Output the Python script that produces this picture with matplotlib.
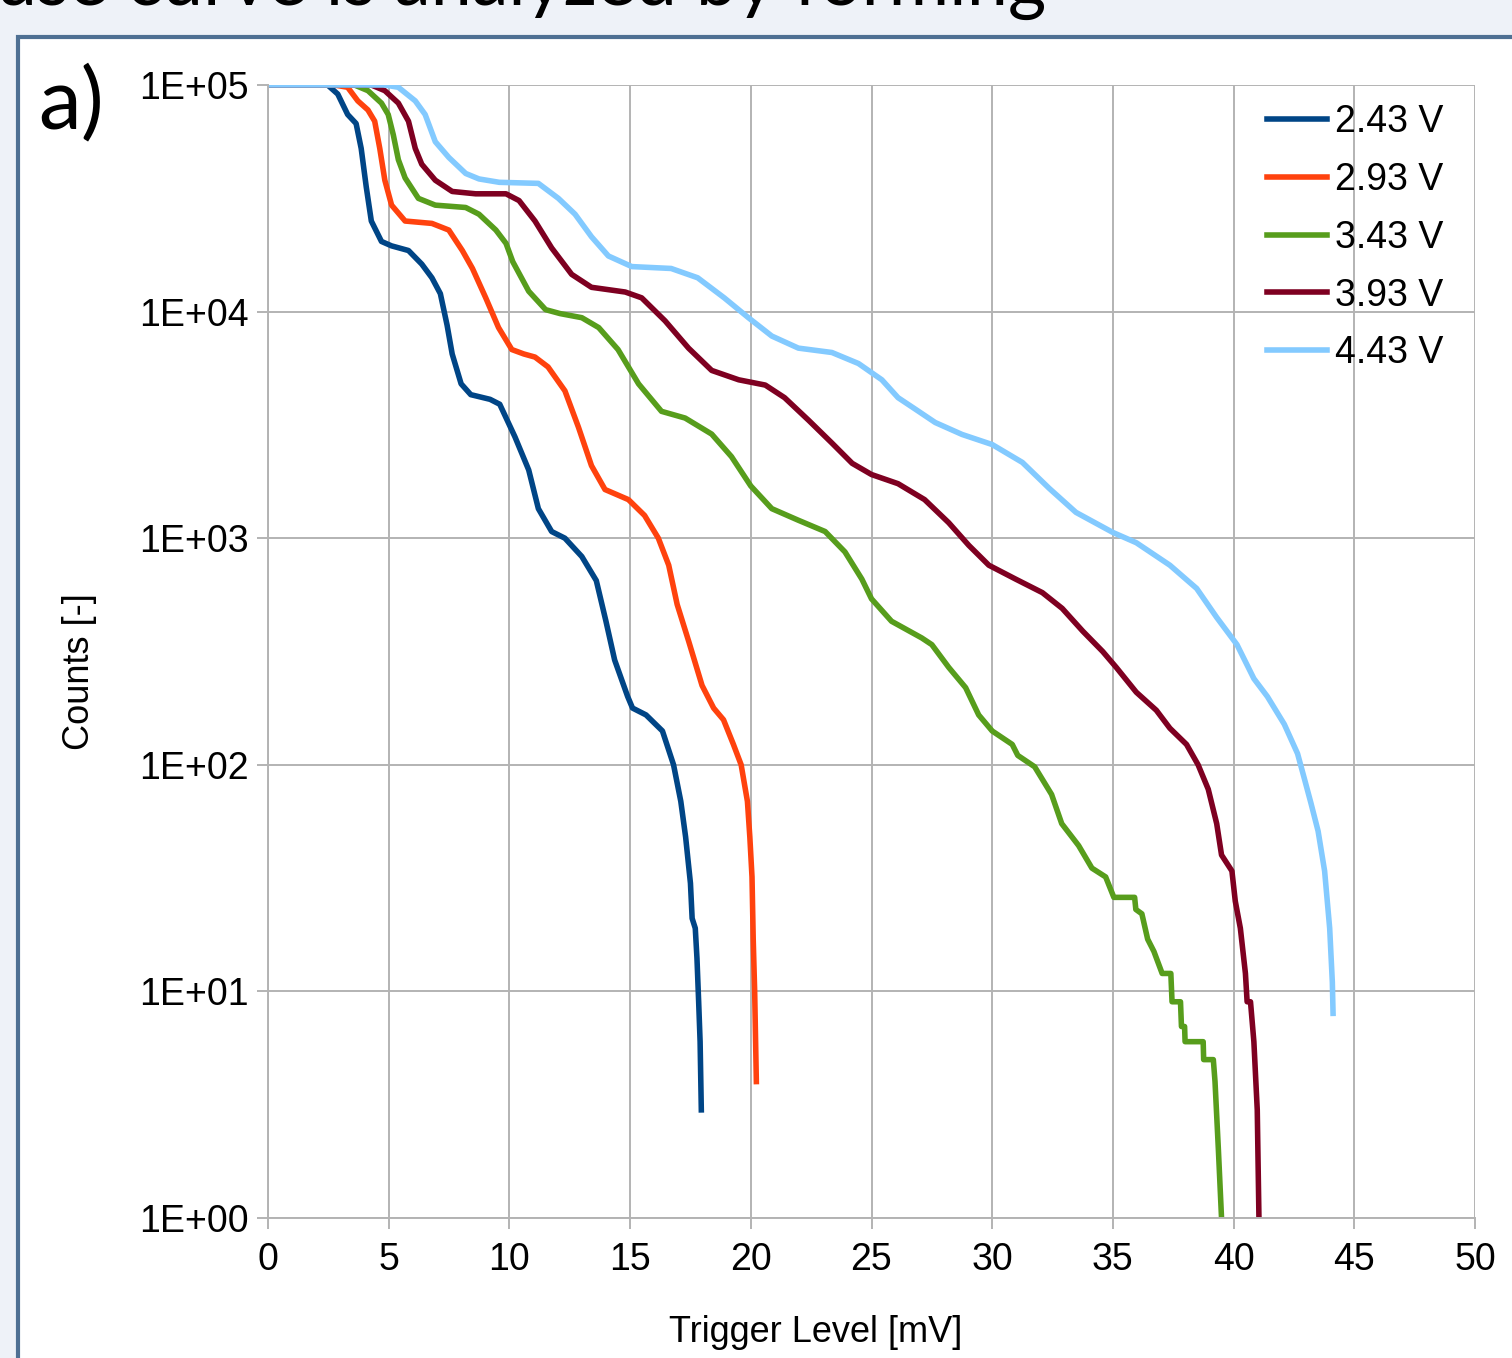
import matplotlib
matplotlib.use("Agg")
from matplotlib import pyplot as plt
from matplotlib.patches import Rectangle
from matplotlib.ticker import FixedLocator, FixedFormatter, MultipleLocator

# Trigger level [mV] and counts for each bias voltage
x_243 = [0, 2.47, 2.89, 3.3, 3.65, 3.86, 4.07, 4.28, 4.7, 5.12, 5.82, 6.37, 6.79, 7.14,
         7.42, 7.63, 8.0, 8.4, 9.2, 9.6, 10.23, 10.8, 11.2, 11.75, 12.3, 13.0, 13.6, 14.0,
         14.36, 14.9, 15.1, 15.66, 16.34, 16.8, 17.1, 17.3, 17.5, 17.57, 17.7, 17.77, 17.84,
         17.9, 17.95]
y_243 = [100000, 100000, 91200, 74100, 67600, 52500, 35500, 25100, 20400, 19500, 18600,
         16200, 14100, 12000, 8700, 6500, 4800, 4300, 4100, 3900, 2800, 2000, 1350, 1070,
         1000, 830, 650, 430, 290, 200, 178, 166, 141, 100, 69, 48, 30, 21, 19, 14, 9, 6, 3]

x_293 = [0, 2.75, 3.3, 3.72, 4.14, 4.42, 4.63, 4.84, 5.12, 5.68, 6.79, 7.49, 8.05, 8.47,
         9.02, 9.55, 10.1, 10.6, 11.06, 11.6, 12.3, 12.86, 13.4, 13.96, 14.93, 15.6, 16.17,
         16.6, 16.95, 17.43, 17.98, 18.46, 18.87, 19.28, 19.6, 19.86, 19.96, 20.05, 20.1,
         20.16, 20.23]
y_293 = [100000, 100000, 97700, 85100, 77600, 69200, 52500, 38000, 29500, 25100, 24500,
         22900, 18600, 15500, 11500, 8500, 6800, 6500, 6300, 5700, 4470, 3090, 2090, 1640,
         1480, 1260, 1000, 760, 510, 350, 224, 178, 158, 123, 100, 69, 48, 32, 17, 10, 4]

x_343 = [0, 3.58, 4.14, 4.7, 4.98, 5.19, 5.4, 5.68, 6.23, 6.93, 8.19, 8.74, 9.44, 9.86,
         10.14, 10.8, 11.5, 12.1, 13.0, 13.7, 14.5, 15.35, 16.3, 17.28, 18.38, 19.2, 20.0,
         20.87, 21.97, 23.08, 23.9, 24.6, 25.0, 25.83, 27.08, 27.5, 28.2, 28.9, 29.44, 30.0,
         30.83, 31.06, 31.76, 32.46, 32.88, 33.58, 34.13, 34.7, 35.04, 35.9, 35.95, 36.2,
         36.44, 36.7, 37.04, 37.4, 37.45, 37.8, 37.84, 37.97, 37.99, 38.74, 38.76, 39.16,
         39.23, 39.37, 39.5]
y_343 = [100000, 100000, 94400, 83200, 74100, 60300, 46800, 38900, 31600, 29500, 28800,
         26900, 22900, 20000, 16600, 12300, 10200, 9800, 9400, 8500, 6800, 4800, 3630, 3390,
         2880, 2290, 1700, 1350, 1200, 1070, 870, 660, 540, 430, 363, 339, 269, 219, 166,
         141, 123, 110, 98, 74, 55, 44, 35, 32, 26, 26, 23, 22, 17, 15, 12, 12, 9, 9, 7, 7,
         6, 6, 5, 5, 4, 2, 1]

x_393 = [0, 4.28, 4.84, 5.4, 5.82, 6.1, 6.37, 6.93, 7.63, 8.6, 9.86, 10.4, 11.06, 11.75,
         12.58, 13.4, 14.8, 15.48, 16.45, 17.42, 18.38, 19.5, 20.6, 21.4, 22.4, 23.36, 24.2,
         25.0, 26.1, 27.2, 28.2, 29.03, 29.86, 30.97, 32.08, 32.9, 33.75, 34.58, 35.14,
         35.97, 36.8, 37.36, 38.05, 38.53, 38.95, 39.3, 39.5, 39.93, 40.07, 40.28, 40.49,
         40.56, 40.7, 40.84, 40.98, 41.05]
y_393 = [100000, 100000, 94400, 83200, 69200, 52500, 44700, 38000, 33900, 33100, 33100,
         30900, 25100, 19100, 14600, 12800, 12200, 11500, 9100, 6900, 5500, 5000, 4740,
         4170, 3310, 2630, 2140, 1910, 1740, 1480, 1170, 930, 760, 660, 575, 490, 389, 316,
         269, 209, 174, 145, 123, 100, 78, 55, 40, 34, 25, 19, 12, 9, 9, 6, 3, 1]

x_443 = [0, 4.84, 5.4, 6.1, 6.51, 6.93, 7.49, 8.19, 8.74, 9.58, 11.2, 12.03, 12.72, 13.4,
         14.1, 15.07, 16.7, 17.8, 18.9, 19.9, 20.87, 21.97, 23.36, 24.46, 25.43, 26.1, 26.8,
         27.64, 28.75, 30.0, 31.25, 32.36, 33.47, 35.0, 35.97, 37.36, 38.47, 39.3, 40.14,
         40.84, 41.4, 42.1, 42.65, 42.93, 43.2, 43.5, 43.77, 43.98, 44.09, 44.12]
y_443 = [100000, 100000, 97700, 85100, 74100, 56200, 47900, 40700, 38500, 37200, 36800,
         31600, 26900, 21400, 17600, 15800, 15500, 14100, 11500, 9400, 7800, 6900, 6600,
         5900, 5000, 4170, 3720, 3240, 2870, 2590, 2160, 1660, 1300, 1060, 955, 760, 600,
         447, 339, 240, 200, 151, 112, 87, 68, 51, 34, 19, 11, 8]

labels = ["2.43 V", "2.93 V", "3.43 V", "3.93 V", "4.43 V"]
colors = ["#004586", "#ff420e", "#579d1c", "#7e0021", "#83caff"]
series = [(x_243, y_243), (x_293, y_293), (x_343, y_343), (x_393, y_393), (x_443, y_443)]

y_ticks = [1, 10, 100, 1000, 10000, 100000]
y_tick_labels = ["1E+00", "1E+01", "1E+02", "1E+03", "1E+04", "1E+05"]

W, H = 1512, 1358
fig = plt.figure(figsize=(W / 100, H / 100), dpi=100)
fig.patch.set_facecolor("#eef2f8")

# slide frame around the chart
frame = Rectangle((18 / W, -0.05), 1.1, 1 - 37 / H + 0.05, transform=fig.transFigure,
                  facecolor="white", edgecolor="#4e7093", linewidth=3, zorder=0)
fig.add_artist(frame)

# cut-off slide text at the top
fig.text(-4 / W, 1 - 5 / H, "use curve is analyzed by forming", fontsize=53,
         family="Lato", color="black", ha="left", va="baseline")
fig.text(38 / W, 1 - 128 / H, "a)", fontsize=62, family="Lato", color="black",
         ha="left", va="baseline")

ax = fig.add_axes([268 / W, 1 - 1218 / H, (1475 - 268) / W, (1218 - 85) / H])
ax.set_facecolor("white")

for (xs, ys), lab, col in zip(series, labels, colors):
    ax.plot(xs, ys, color=col, linewidth=4.0, label=lab, solid_joinstyle="round")

ax.set_yscale("log")
ax.set_xlim(0, 50)
ax.set_ylim(1, 100000)
ax.xaxis.set_major_locator(MultipleLocator(5))
ax.yaxis.set_major_locator(FixedLocator(y_ticks))
ax.yaxis.set_major_formatter(FixedFormatter(y_tick_labels))
ax.yaxis.set_minor_locator(FixedLocator([]))

grid_col = "#b3b3b3"
ax.grid(True, color=grid_col, linewidth=1.4)
ax.set_axisbelow(True)
for side in ["top", "right"]:
    ax.spines[side].set_visible(False)
for side in ["left", "bottom"]:
    ax.spines[side].set_color(grid_col)
    ax.spines[side].set_linewidth(1.4)

ax.tick_params(axis="both", direction="out", length=8, width=1.4, color=grid_col,
               labelsize=27, labelcolor="black")
ax.tick_params(axis="x", pad=9)
ax.tick_params(axis="y", pad=6)
for lbl in ax.get_xticklabels() + ax.get_yticklabels():
    lbl.set_family("Liberation Sans")

ax.set_xlabel("Trigger Level [mV]", fontsize=26, family="Liberation Sans")
ax.xaxis.set_label_coords((816 - 268) / 1207, -0.086)
ax.set_ylabel("Counts [-]", fontsize=26, family="Liberation Sans")
ax.yaxis.set_label_coords((97 - 268) / 1207, 0.482)

leg = ax.legend(loc="upper left", bbox_to_anchor=(0.828, 0.983), frameon=False,
                borderpad=0, borderaxespad=0, handlelength=1.6, handletextpad=0.2,
                labelspacing=0.58, prop={"family": "Liberation Sans", "size": 27})

fig.savefig("out.png", dpi=100, facecolor=fig.get_facecolor())
